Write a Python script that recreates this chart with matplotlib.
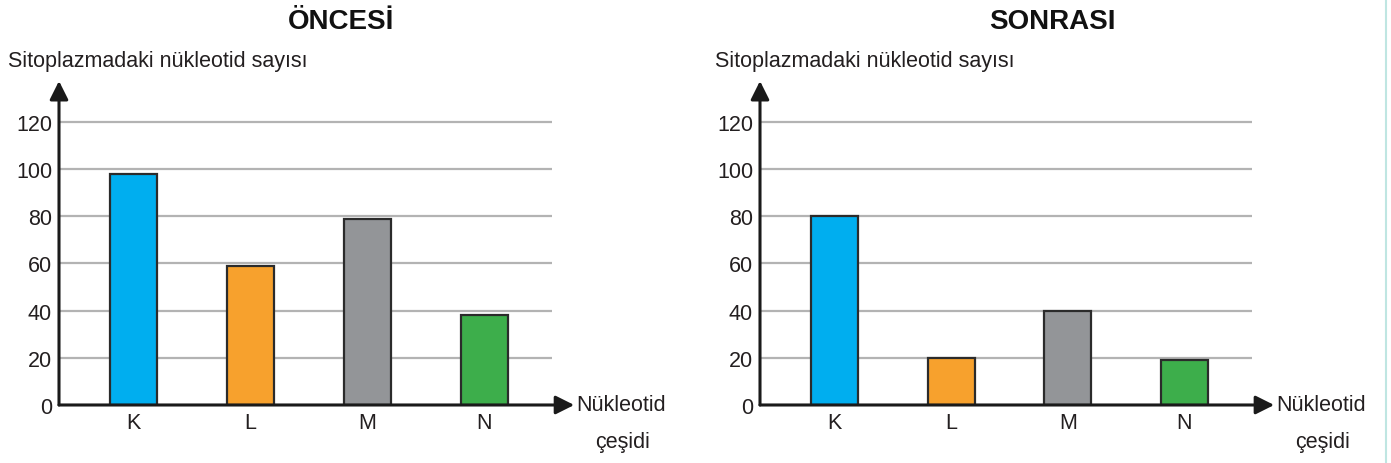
import matplotlib.pyplot as plt
from matplotlib.lines import Line2D

# dados
categorias = ["K", "L", "M", "N"]
oncesi = [98, 59, 79, 38]
sonrasi = [80, 20, 40, 19]
cores = ["#00AEEF", "#F7A12D", "#939598", "#3DAE4B"]
yticks = [0, 20, 40, 60, 80, 100, 120]

titulos = ["ÖNCESİ", "SONRASI"]
ylabel = "Sitoplazmadaki nükleotid sayısı"

plt.rcParams['font.family'] = ['Liberation Sans', 'DejaVu Sans']
texto = "#231f20"
fs = 15.5

W, H = 1391, 464
fig = plt.figure(figsize=(W / 100, H / 100), dpi=100)


def fx(px):
    return px / W


def fy(py):
    return 1 - py / H


def painel(x0, x1, valores, titulo, tx, lx):
    ax = fig.add_axes([fx(x0), fy(406), fx(x1 - x0), (406 - 82) / H])
    xs = range(len(categorias))
    ax.bar(xs, valores, width=0.40, color=cores, edgecolor="#2b2b2b", linewidth=1.6, zorder=3)
    ax.set_xlim(-0.64, 3.58)
    ax.set_ylim(0, 137.3)
    ax.set_yticks(yticks)
    ax.set_yticklabels([str(v) for v in yticks], fontsize=fs, color=texto)
    ax.set_xticks(list(xs))
    ax.set_xticklabels(categorias, fontsize=fs, color=texto)
    ax.tick_params(length=0)
    ax.tick_params(axis="y", pad=5)
    ax.tick_params(axis="x", pad=5)
    ax.grid(axis="y", color="#b3b3b3", linewidth=1.6, zorder=1)
    for s in ax.spines.values():
        s.set_visible(False)
    # setas dos eixos
    ap = dict(arrowstyle="-|>", mutation_scale=28, lw=2.2, color="#1a1a1a",
              shrinkA=0, shrinkB=0)
    ax.annotate("", xy=(0, 1.0), xytext=(0, 0), xycoords="axes fraction",
                arrowprops=ap, annotation_clip=False, zorder=5)
    ax.annotate("", xy=(1.045, 0), xytext=(0, 0), xycoords="axes fraction",
                arrowprops=ap, annotation_clip=False, zorder=5)

    fig.text(fx(tx), fy(22), titulo, fontsize=20, fontweight="bold",
             ha="center", va="center", color="#111111")
    fig.text(fx(lx), fy(62), ylabel, fontsize=fs, ha="left", va="center", color=texto)
    fig.text(fx(x1 + 24), fy(406), "Nükleotid", fontsize=fs, ha="left", va="center", color=texto)
    fig.text(fx(x1 + 71), fy(443), "çeşidi", fontsize=fs, ha="center", va="center", color=texto)
    return ax


painel(59, 552, oncesi, titulos[0], 341, 8)
painel(760, 1252, sonrasi, titulos[1], 1052, 715)

# linha da borda direita
fig.add_artist(Line2D([fx(1386), fx(1386)], [0, 1], color="#bfe6e2", lw=1.5))

fig.savefig("out.png", dpi=100, facecolor="white")
